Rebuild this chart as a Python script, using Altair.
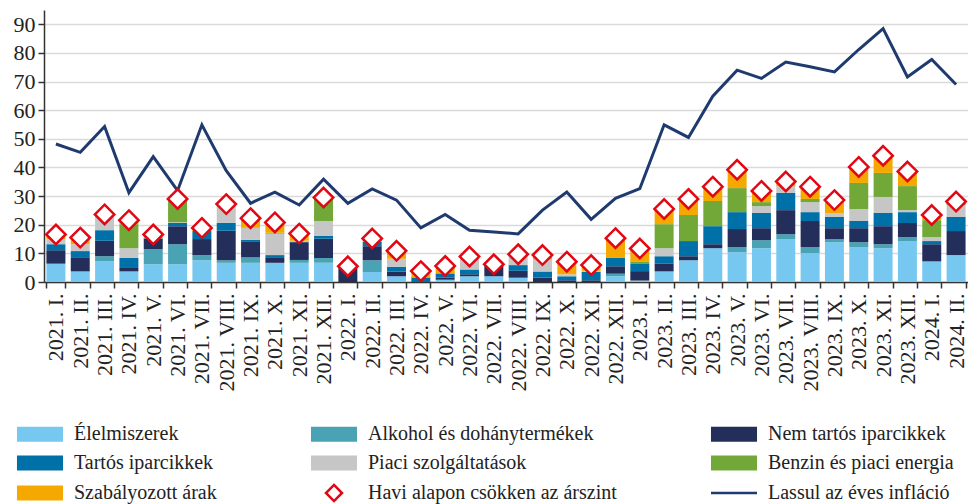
import altair as alt
import pandas as pd

months = [
    "2021. I.", "2021. II.", "2021. III.", "2021. IV.", "2021. V.", "2021. VI.",
    "2021. VII.", "2021. VIII.", "2021. IX.", "2021. X.", "2021. XI.", "2021. XII.",
    "2022. I.", "2022. II.", "2022. III.", "2022. IV.", "2022. V.", "2022. VI.",
    "2022. VII.", "2022. VIII.", "2022. IX.", "2022. X.", "2022. XI.", "2022. XII.",
    "2023. I.", "2023. II.", "2023. III.", "2023. IV.", "2023. V.", "2023. VI.",
    "2023. VII.", "2023. VIII.", "2023. IX.", "2023. X.", "2023. XI.", "2023. XII.",
    "2024. I.", "2024. II.",
]

cat_names = [
    "Élelmiszerek",
    "Alkohol és dohánytermékek",
    "Nem tartós iparcikkek",
    "Tartós iparcikkek",
    "Piaci szolgáltatások",
    "Benzin és piaci energia",
    "Szabályozott árak",
]
marker_name = "Havi alapon csökken az árszint"
line_name = "Lassul az éves infláció"

food = [6.4, 3.7, 7.2, 3.7, 6.2, 6.2, 7.6, 6.7, 6.7, 6.7, 6.7, 6.7,
        0.0, 3.5, 2.0, 0.0, 0.8, 2.0, 2.0, 1.5, 0.0, 0.0, 0.0, 2.0,
        0.5, 3.7, 7.6, 11.8, 10.4, 11.8, 15.0, 10.1, 13.9, 12.2, 11.8, 14.3,
        7.2, 9.4]
alcohol = [0.0, 0.0, 1.8, 0.0, 5.3, 7.0, 1.8, 0.9, 1.9, 0.0, 1.0, 1.7,
           0.0, 4.1, 0.0, 0.0, 0.0, 0.0, 0.0, 0.0, 0.0, 0.0, 0.0, 0.9,
           0.0, 0.0, 0.0, 0.0, 1.8, 2.8, 1.7, 2.1, 1.1, 1.7, 1.4, 1.4,
           0.0, 0.0]
nondurable = [4.7, 4.7, 5.4, 1.2, 3.6, 6.3, 5.6, 10.3, 5.4, 1.7, 6.2, 6.7,
              4.7, 4.9, 1.7, 0.0, 0.8, 0.7, 4.2, 2.4, 1.6, 0.6, 0.6, 2.6,
              3.3, 2.8, 1.4, 1.4, 6.3, 4.2, 8.4, 9.1, 3.8, 4.9, 6.3, 4.9,
              6.0, 8.4]
durable = [2.1, 2.4, 3.7, 3.5, 0.2, 1.1, 2.8, 2.8, 0.7, 1.0, 0.2, 1.0,
           0.4, 1.5, 1.6, 1.6, 1.4, 1.7, 0.0, 2.0, 2.1, 1.4, 2.9, 2.9,
           2.5, 2.5, 5.3, 6.3, 5.9, 5.3, 6.0, 3.1, 3.9, 2.5, 4.6, 3.8,
           1.1, 4.9]
services = [1.8, 2.4, 4.9, 3.4, 0.0, 0.3, 0.0, 6.5, 4.2, 7.5, 0.3, 5.2,
            0.0, 0.0, 2.8, 0.0, 0.0, 3.9, 0.0, 3.8, 4.1, 0.7, 0.4, 0.0,
            0.0, 2.8, 0.0, 0.0, 0.0, 2.4, 2.4, 3.5, 1.4, 4.2, 5.6, 0.7,
            1.4, 4.2]
fuel = [0.0, 0.0, 0.0, 8.4, 0.0, 8.1, 0.0, 0.0, 0.0, 0.3, 0.0, 8.2,
        0.0, 0.0, 0.0, 0.0, 0.0, 0.0, 0.0, 0.0, 0.0, 0.0, 0.0, 0.0,
        0.9, 8.4, 9.1, 8.8, 8.4, 1.4, 0.0, 1.1, 0.0, 9.1, 8.4, 8.4,
        5.9, 0.7]
regulated = [1.6, 2.3, 0.6, 1.4, 1.3, 0.0, 1.1, 0.0, 3.4, 3.6, 2.5, 0.0,
             0.4, 1.2, 2.8, 2.2, 2.6, 0.6, 0.0, 0.0, 1.6, 4.4, 2.0, 6.9,
             4.5, 5.3, 5.6, 5.0, 6.4, 3.9, 1.6, 4.3, 4.5, 5.6, 6.0, 5.1,
             1.8, 0.5]
inflation_line = [48.2, 45.3, 54.3, 31.2, 43.8, 31.9, 54.9, 38.9, 27.5, 31.4, 26.9, 35.9,
                  27.5, 32.5, 28.6, 18.9, 23.6, 18.1, 17.5, 16.8, 25.1, 31.4, 21.9, 29.2,
                  32.6, 54.9, 50.5, 64.9, 74.0, 71.1, 76.8, 75.2, 73.4, 81.2, 88.5, 71.6,
                  77.7, 69.0]

bar_colors = ["#77c8f0", "#4aa3b4", "#232f5a", "#0070a8", "#c6c6c6", "#72a838", "#f5a900"]
marker_red = "#e30613"
line_navy = "#1f3a6e"
series = [food, alcohol, nondurable, durable, services, fuel, regulated]

rows = []
for ci, (name, vals) in enumerate(zip(cat_names, series)):
    for m, v in zip(months, vals):
        rows.append({"month": m, "cat": name, "ord": ci, "value": v})
bars_df = pd.DataFrame(rows)
totals = bars_df.groupby("month", sort=False)["value"].sum()
marker_df = pd.DataFrame({"month": months, "total": [float(totals[m]) for m in months],
                          "cat": marker_name})
line_df = pd.DataFrame({"month": months, "value": inflation_line, "cat": line_name})

FONT = "Liberation Serif"
legend_domain = cat_names + [marker_name, line_name]

rect_path = "M-3.07,-1L3.07,-1L3.07,1L-3.07,1Z"
diamond_path = "M0,-1.07L1.07,0L0,1.07L-1.07,0Z"
line_path = "M-3.07,0L3.07,0"

fill_scale = alt.Scale(domain=legend_domain, range=bar_colors + ["white", "transparent"])
stroke_scale = alt.Scale(domain=legend_domain,
                         range=["transparent"] * 7 + [marker_red, line_navy])
shape_scale = alt.Scale(domain=legend_domain, range=[rect_path] * 7 + [diamond_path, line_path])

legend = alt.Legend(
    title=None,
    orient="none",
    direction="horizontal",
    legendX=-28,
    legendY=414,
    columns=3,
    columnPadding=88,
    rowPadding=3,
    symbolSize=225,
    symbolStrokeWidth=2.5,
    symbolOffset=14,
    symbolOpacity=1,
    labelFont=FONT,
    labelFontSize=20,
    labelColor="#222222",
    labelLimit=500,
    labelOffset=24,
)

x_enc = alt.X(
    "month:N",
    scale=alt.Scale(domain=months, paddingInner=0.22, paddingOuter=0.1),
    axis=alt.Axis(title=None, labelAngle=-90, tickBand="extent", labelOverlap=False,
                  labelPadding=5, tickSize=6, grid=False, labelFont=FONT,
                  labelFontSize=22, labelColor="#222222"),
)
y_axis = alt.Axis(title=None, values=list(range(0, 100, 10)), grid=True, tickSize=6,
                  labelPadding=3, labelFont=FONT, labelFontSize=22, labelColor="#222222")
y_scale = alt.Scale(domain=[0, 95], nice=False)

bars = alt.Chart(bars_df).mark_bar().encode(
    x=x_enc,
    y=alt.Y("value:Q", stack="zero", scale=y_scale, axis=y_axis),
    fill=alt.Fill("cat:N", scale=fill_scale, legend=legend),
    stroke=alt.Stroke("cat:N", scale=stroke_scale, legend=legend),
    order=alt.Order("ord:Q", sort="ascending"),
)

line = alt.Chart(line_df).mark_line(strokeWidth=3).encode(
    x=x_enc,
    y=alt.Y("value:Q", scale=y_scale, axis=y_axis),
    stroke=alt.Stroke("cat:N", scale=stroke_scale, legend=legend),
)

markers = alt.Chart(marker_df).mark_point(
    filled=True, strokeWidth=2.5, size=330, opacity=1,
).encode(
    x=x_enc,
    y=alt.Y("total:Q", scale=y_scale, axis=y_axis),
    fill=alt.Fill("cat:N", scale=fill_scale, legend=legend),
    stroke=alt.Stroke("cat:N", scale=stroke_scale, legend=legend),
    shape=alt.Shape("cat:N", scale=shape_scale, legend=legend),
)

chart = alt.layer(bars, line, markers).properties(
    width=924,
    height=272,
    autosize=alt.AutoSizeParams(type="none"),
    padding={"left": 36, "top": 2, "right": 0, "bottom": 222},
).configure(font=FONT).configure_axis(
    labelFont=FONT,
    labelFontSize=22,
    labelColor="#222222",
    domainColor="#333333",
    tickColor="#333333",
    domainWidth=1.5,
    tickWidth=1.5,
    gridColor="#dadada",
    gridWidth=1.5,
).configure_view(stroke="transparent")

chart.save("out.html", embed_options={"renderer": "svg", "actions": False})
